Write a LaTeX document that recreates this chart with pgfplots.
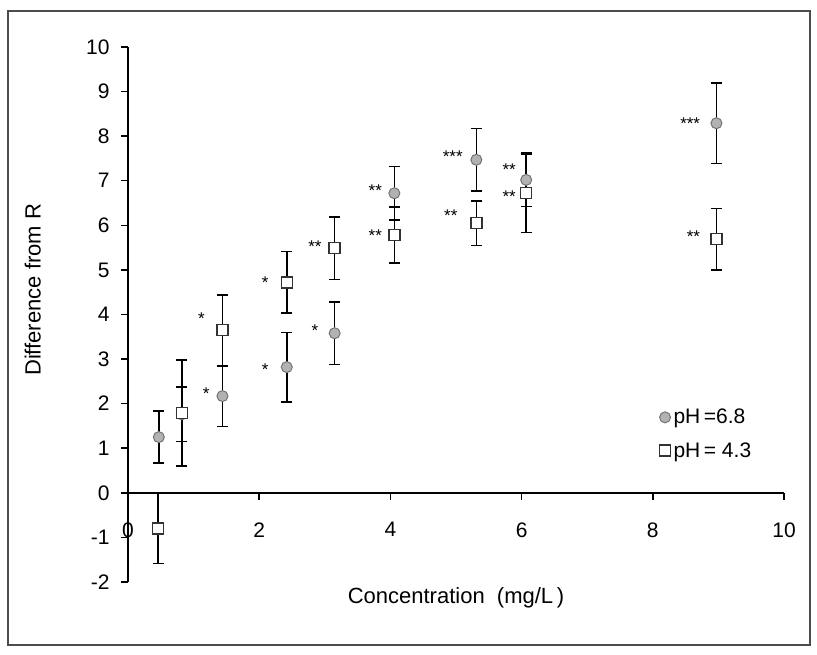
\documentclass[border=0pt]{standalone}
\usepackage{pgfplots}
\pgfplotsset{compat=1.18}
\usepackage{fontspec}
\setmainfont{Liberation Sans}
\pgfplotstableread{
x y e
0.47 1.25 0.58
0.82 1.76 0.61
1.44 2.17 0.68
2.42 2.82 0.78
3.15 3.58 0.70
4.06 6.72 0.60
5.31 7.47 0.70
6.07 7.02 0.60
8.97 8.29 0.90
}\phhigh
\pgfplotstableread{
x y e
0.46 -0.80 0.78
0.82 1.79 1.19
1.44 3.65 0.79
2.42 4.72 0.69
3.15 5.49 0.70
4.06 5.78 0.63
5.31 6.05 0.50
6.07 6.72 0.88
8.97 5.69 0.69
}\phlow
\begin{document}
\begin{tikzpicture}[x=1pt,y=1pt]
\useasboundingbox (0,0) rectangle (817,654);
\draw[line width=1.6pt, black!70] (8,9) rectangle (810,643);
\begin{axis}[
  at={(128pt,72pt)}, anchor=south west,
  width=656pt, height=535pt, scale only axis,
  xmin=0, xmax=10, ymin=-2, ymax=10,
  axis x line=middle, axis y line=left,
  axis line style={line width=1.5pt, black, -},
  hide obscured x ticks=false, hide obscured y ticks=false,
  xtick={0,2,...,10}, ytick={-2,-1,...,10},
  tick align=outside, major tick length=7pt,
  tick style={line width=1.5pt, black},
  /pgf/number format/assume math mode=true,
  tick label style={font=\fontsize{21}{24}\selectfont},
  xticklabel style={yshift=-19pt},
  yticklabel style={xshift=-8pt},
  xlabel={Concentration\ \ (mg/L\,)},
  xlabel style={at={(axis description cs:0.5,-0.03)}, anchor=center, font=\fontsize{22}{24}\selectfont},
  ylabel={Difference from R},
  ylabel style={at={(axis description cs:-0.145,0.546)}, anchor=center, font=\fontsize{22}{24}\selectfont},
  clip=false,
  legend style={draw=none, fill=none, at={(axis description cs:0.81,0.327)}, anchor=north west,
    font=\fontsize{21}{24}\selectfont, row sep=13pt, inner sep=0pt,
    nodes={inner xsep=3pt}},
  legend cell align=left,
  legend image code/.code={\draw[#1] plot coordinates {(0pt,0pt)};},
  error bars/y dir=both, error bars/y explicit,
  error bars/error bar style={line width=1.5pt, black},
  error bars/error mark options={rotate=90, mark size=5.5pt, line width=1.5pt, black},
]
\addplot[only marks, mark=*, mark size=5.5pt, mark options={fill=black!30, draw=black!55, line width=1pt}]
  table[x=x, y=y, y error=e] {\phhigh};
\addlegendentry{pH\,=6.8}
\addplot[only marks, mark=square*, mark size=5.5pt, mark options={fill=white, draw=black!80, line width=1.5pt}]
  table[x=x, y=y, y error=e] {\phlow};
\addlegendentry{pH\,=\ 4.3}
\tikzset{ast/.style={font=\fontsize{17}{17}\selectfont, anchor=base, inner sep=0pt, yshift=-9.5pt}}
\node[ast] at (axis cs:1.12,3.98) {*};
\node[ast] at (axis cs:1.19,2.31) {*};
\node[ast] at (axis cs:2.09,4.79) {*};
\node[ast] at (axis cs:2.09,2.85) {*};
\node[ast] at (axis cs:2.85,5.60) {**};
\node[ast] at (axis cs:2.85,3.72) {*};
\node[ast] at (axis cs:3.77,6.85) {**};
\node[ast] at (axis cs:3.77,5.86) {**};
\node[ast] at (axis cs:4.95,7.62) {***};
\node[ast] at (axis cs:4.92,6.31) {**};
\node[ast] at (axis cs:5.81,7.34) {**};
\node[ast] at (axis cs:5.81,6.72) {**};
\node[ast] at (axis cs:8.57,8.36) {***};
\node[ast] at (axis cs:8.62,5.82) {**};
\end{axis}
\end{tikzpicture}
\end{document}
